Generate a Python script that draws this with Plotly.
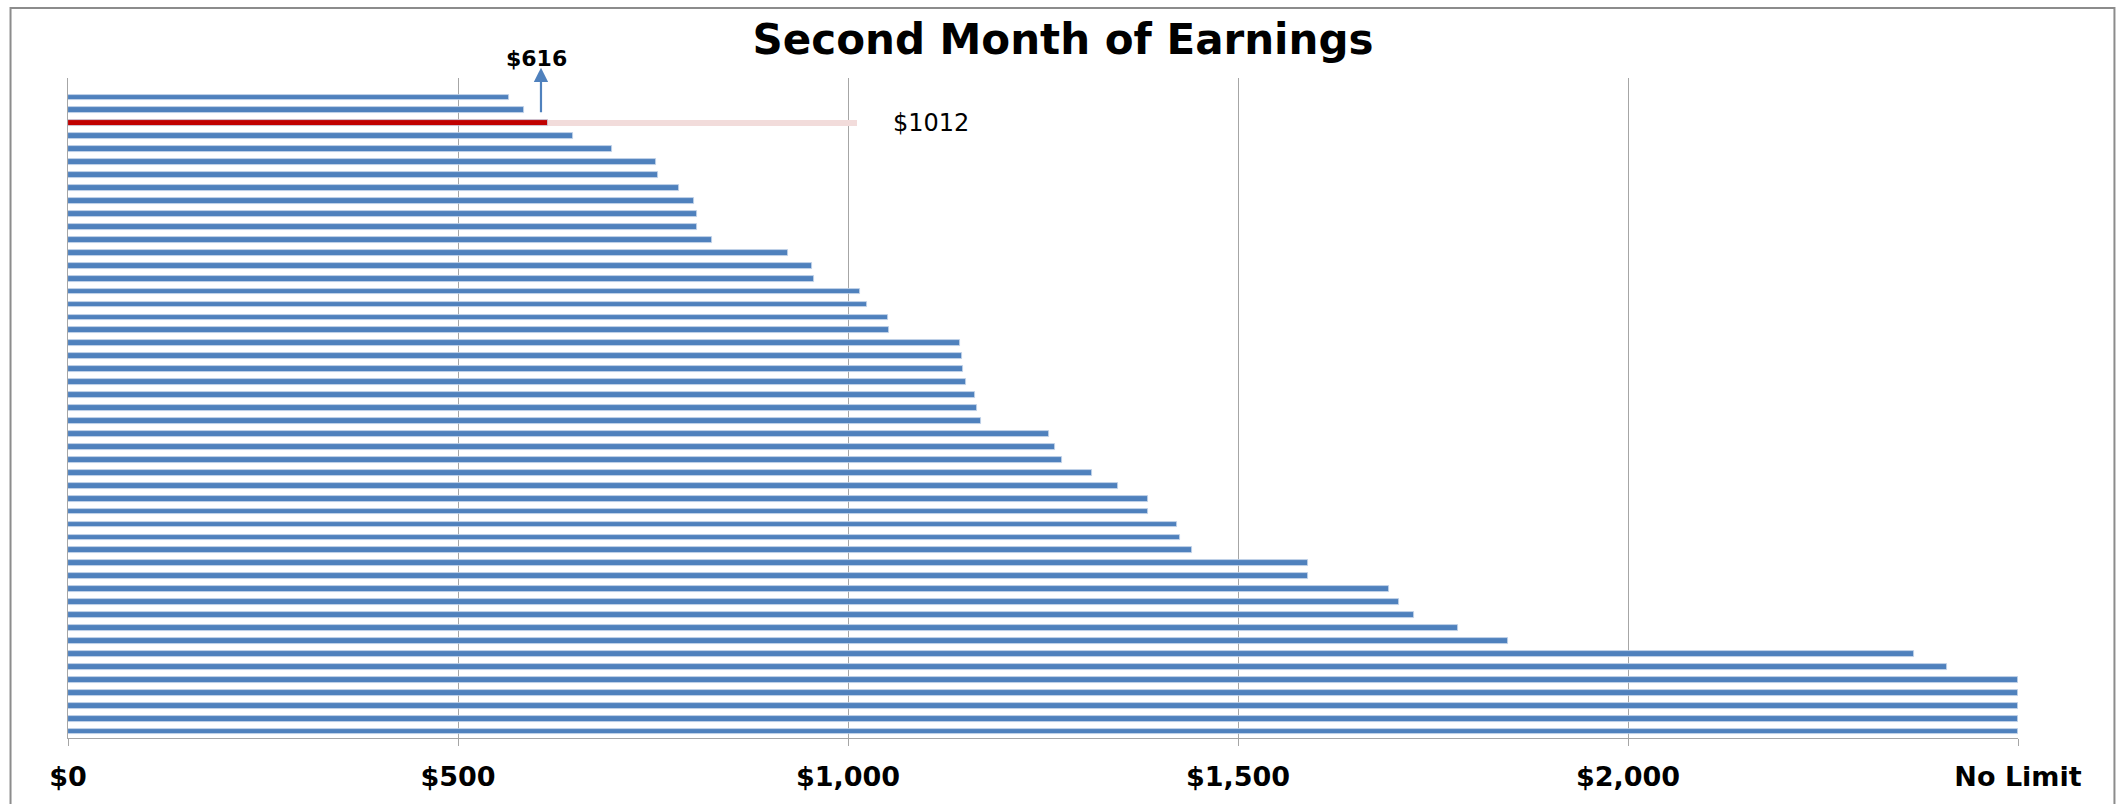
import plotly.graph_objects as go

# ---- data ----
values = [565, 585, 616, 648, 698, 754, 756, 783, 802, 806,
          806, 825, 923, 954, 956, 1016, 1024, 1051, 1053, 1143,
          1146, 1148, 1151, 1163, 1165, 1170, 1258, 1265, 1274, 1313,
          1346, 1385, 1385, 1422, 1426, 1441, 1590, 1590, 1694, 1706,
          1725, 1782, 1846, 2367, 2409, 2500, 2500, 2500, 2500, 2500]
highlight_index = 2
highlight_value = 616
target_value = 1012
tick_vals = [0, 500, 1000, 1500, 2000, 2500]
tick_text = ["$0", "$500", "$1,000", "$1,500", "$2,000", "No Limit"]
title_text = "Second Month of Earnings"

BLUE = "#4F81BD"
RED = "#C00000"
PINK = "#F2DCDB"
GRID = "#A6A6A6"

positions = list(range(1, len(values) + 1))
colors = [RED if i == highlight_index else BLUE for i in range(len(values))]

fig = go.Figure()
fig.add_bar(x=values, y=positions, orientation="h", width=0.45,
            marker=dict(color=colors, line=dict(color="#C6D6EA", width=0.8)),
            hoverinfo="x")
fig.add_bar(x=[target_value - highlight_value], base=[highlight_value],
            y=[positions[highlight_index]], orientation="h", width=0.45,
            marker=dict(color=PINK, line=dict(width=0)), hoverinfo="x")

W, H = 2117, 804
L, R, T, B = 67.5, 2117 - 2018.5, 77.5, 804 - 751.5
ph = H - T - B
pw = W - L - R

fig.update_layout(
    width=W, height=H,
    margin=dict(l=L, r=R, t=T, b=B),
    paper_bgcolor="white", plot_bgcolor="white",
    barmode="overlay", bargap=0, showlegend=False,
    title=dict(text=title_text, x=1063 / W, xref="container", xanchor="center",
               y=1 - 39 / H, yref="container", yanchor="middle",
               font=dict(family="DejaVu Sans", size=42, color="black", weight="bold")),
    xaxis=dict(range=[0, 2500], tickvals=tick_vals, ticktext=tick_text,
               showgrid=True, gridcolor=GRID, gridwidth=1, zeroline=False,
               showline=True, linecolor=GRID, linewidth=1,
               ticks="outside", ticklen=7, tickcolor=GRID, tickwidth=1,
               ticklabelstandoff=8,
               tickfont=dict(family="DejaVu Sans", size=27, color="black", weight="bold")),
    yaxis=dict(range=[len(values) + 0.5, -0.5], showgrid=False, zeroline=False,
               showticklabels=False, showline=True, linecolor=GRID, linewidth=1,
               ticks=""),
)

# arrow and labels
fig.add_annotation(x=highlight_value, xref="x", xshift=-7.5,
                   y=1 + (T - 67) / ph, yref="paper",
                   ax=0, ay=46, axref="pixel", ayref="pixel",
                   text="", showarrow=True, arrowhead=2, arrowsize=1.3,
                   arrowwidth=2.2, arrowcolor=BLUE)
fig.add_annotation(x=highlight_value, xref="x", xshift=-12,
                   y=1 + (T - 58) / ph, yref="paper", yanchor="middle",
                   text="$616", showarrow=False,
                   font=dict(family="DejaVu Sans", size=22, color="black", weight="bold"))
fig.add_annotation(x=target_value, xref="x", xshift=34, xanchor="left",
                   y=positions[highlight_index], yref="y", yanchor="middle",
                   text="$1012", showarrow=False,
                   font=dict(family="DejaVu Sans", size=24, color="black"))

# chart border
fig.add_shape(type="rect", xref="paper", yref="paper",
              x0=(10 - L) / pw, x1=(2115 - L) / pw,
              y0=-(B + 20) / ph, y1=1 + (T - 6) / ph,
              line=dict(color="#8C8C8C", width=2), fillcolor="rgba(0,0,0,0)")

fig.write_html("out.html", config={"displayModeBar": False},
               post_script="document.body.style.margin='0';document.body.style.overflow='hidden';")
